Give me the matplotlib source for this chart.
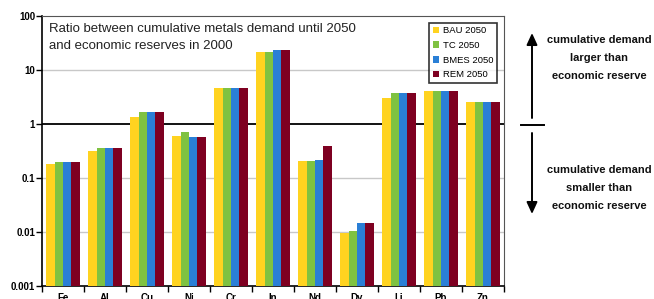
import numpy as np
import matplotlib
matplotlib.use('Agg')
import matplotlib.pyplot as plt

plt.rcParams['font.family'] = ['Liberation Sans', 'DejaVu Sans']

# data
metals = ['Fe', 'Al', 'Cu', 'Ni', 'Cr', 'In', 'Nd', 'Dy', 'Li', 'Pb', 'Zn']
bau = [0.18, 0.32, 1.36, 0.60, 4.6, 21.8, 0.206, 0.0097, 3.07, 4.1, 2.6]
tc = [0.195, 0.36, 1.69, 0.72, 4.6, 21.8, 0.21, 0.0104, 3.8, 4.1, 2.6]
bmes = [0.195, 0.36, 1.69, 0.58, 4.6, 23.4, 0.22, 0.0145, 3.8, 4.1, 2.6]
rem = [0.195, 0.36, 1.69, 0.58, 4.6, 23.4, 0.39, 0.0145, 3.8, 4.1, 2.6]
series = [('BAU 2050', bau, '#ffd320'),
          ('TC 2050', tc, '#7fc241'),
          ('BMES 2050', bmes, '#2a7fd6'),
          ('REM 2050', rem, '#7e0021')]

fig = plt.figure(figsize=(6.54, 2.99), dpi=100)
ax = fig.add_axes([42/654, 13/299, 462/654, 270/299])

index = np.arange(len(metals))
bar_width = 0.197
bottom = 0.001
for i, (name, vals, col) in enumerate(series):
    vals = np.array(vals)
    ax.bar(index + (i - 1.5) * bar_width, vals - bottom, bar_width, bottom=bottom,
           color=col, label=name, zorder=3, linewidth=0)

ax.set_yscale('log')
ax.set_ylim(0.001, 100)
ax.set_xlim(-0.5, len(metals) - 0.5)

for y in [0.01, 0.1, 10]:
    ax.axhline(y, color='#c8c8c8', lw=1, zorder=1)
ax.axhline(1, color='black', lw=1.3, zorder=2)

ax.set_yticks([0.001, 0.01, 0.1, 1, 10, 100])
ax.set_yticklabels(['0.001', '0.01', '0.1', '1', '10', '100'],
                   fontsize=7, fontweight='bold')
ax.yaxis.set_minor_locator(matplotlib.ticker.NullLocator())
ax.tick_params(axis='y', length=4, width=1, pad=1)

ax.set_xticks(index)
ax.set_xticklabels(metals, fontsize=7, fontweight='bold')
ax.tick_params(axis='x', which='major', length=0, pad=5)
ax.set_xticks(np.arange(len(metals) + 1) - 0.5, minor=True)
ax.tick_params(axis='x', which='minor', length=4, width=1, direction='out')

for s in ['left', 'bottom']:
    ax.spines[s].set_linewidth(1.2)
for s in ['top', 'right']:
    ax.spines[s].set_color('#555555')

ax.text(0.015, 0.975, 'Ratio between cumulative metals demand until 2050\nand economic reserves in 2000',
        transform=ax.transAxes, ha='left', va='top', fontsize=9.5, color='#222222',
        linespacing=1.55)

leg = ax.legend(loc='upper right', fontsize=6.8, frameon=True, fancybox=False,
                handlelength=0.7, handleheight=0.7, handletextpad=0.4,
                borderpad=0.35, labelspacing=0.6, borderaxespad=0.75)
leg.get_frame().set_edgecolor('black')
leg.get_frame().set_linewidth(1.2)

# right-hand annotation
def fx(px):
    return px / 654

def fy(py):
    return 1 - py / 299

arrow_style = '-|>,head_length=7,head_width=3.2'
fig.add_artist(matplotlib.patches.FancyArrowPatch(
    (fx(532), fy(118)), (fx(532), fy(33)), transform=fig.transFigure,
    arrowstyle=arrow_style, color='black', lw=1.4, shrinkA=0, shrinkB=0))
fig.add_artist(matplotlib.patches.FancyArrowPatch(
    (fx(532), fy(133)), (fx(532), fy(214)), transform=fig.transFigure,
    arrowstyle=arrow_style, color='black', lw=1.4, shrinkA=0, shrinkB=0))
fig.add_artist(matplotlib.lines.Line2D([fx(521), fx(544)], [fy(125), fy(125)],
                                       transform=fig.transFigure, color='black', lw=1.4))

fig.text(fx(599), fy(58), 'cumulative demand\nlarger than\neconomic reserve',
         ha='center', va='center', fontsize=8, fontweight='bold',
         linespacing=1.95, color='#111111')
fig.text(fx(599), fy(188), 'cumulative demand\nsmaller than\neconomic reserve',
         ha='center', va='center', fontsize=8, fontweight='bold',
         linespacing=1.95, color='#111111')

fig.savefig('out.png', dpi=100)
